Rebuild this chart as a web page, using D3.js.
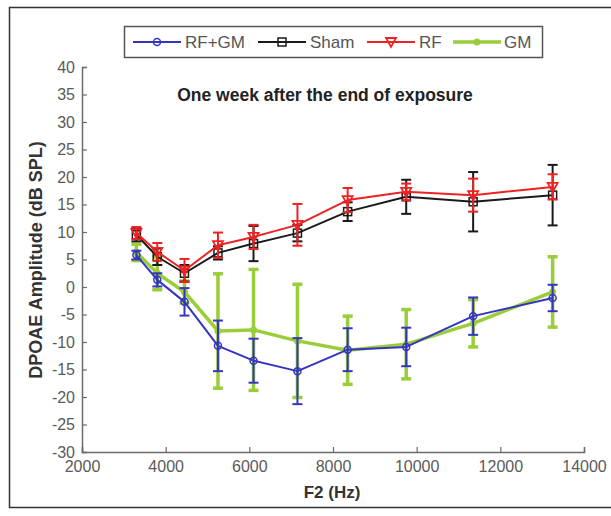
<!DOCTYPE html>
<html>
<head>
<meta charset="utf-8">
<script src="https://cdn.jsdelivr.net/npm/d3@7"></script>
<style>
  body { margin: 0; background: #fff; }
  svg { display: block; font-family: "Liberation Sans", Arial, sans-serif; }
</style>
</head>
<body>
<div id="chart"></div>
<script>
// frequencies (Hz) and mean DPOAE amplitude +- error
const freqs = [3300, 3800, 4450, 5250, 6100, 7150, 8350, 9750, 11350, 13250];
const rfgm = [5.8, 1.3, -2.7, -10.7, -13.4, -15.3, -11.4, -10.9, -5.3, -2.0];
const rfgmErr = [0.8, 1.2, 2.5, 4.6, 4.0, 6.0, 3.9, 3.5, 3.4, 2.4];
const sham = [9.5, 5.5, 2.5, 6.2, 7.9, 9.8, 13.7, 16.4, 15.5, 16.7];
const shamErr = [1.2, 1.5, 1.5, 1.2, 3.2, 1.5, 1.7, 3.1, 5.4, 5.5];
const rf = [9.8, 6.4, 3.0, 7.6, 9.1, 11.3, 15.8, 17.3, 16.7, 18.2];
const rfErr = [1.1, 1.6, 2.1, 2.3, 2.2, 3.8, 2.2, 1.5, 3.0, 2.3];
const gm = [6.3, 2.5, -0.9, -8.0, -7.8, -9.8, -11.5, -10.4, -6.6, -0.9];
const gmErr = [1.5, 3.0, 2.0, 10.4, 11.0, 10.3, 6.2, 6.3, 4.3, 6.4];

const xTicks = [2000, 4000, 6000, 8000, 10000, 12000, 14000];
const yTicks = d3.range(-30, 41, 5);

const width = 611, height = 516;
const svg = d3.select("#chart").append("svg")
    .attr("width", width)
    .attr("height", height);

// outer frame of the figure
svg.append("rect")
    .attr("x", 9.5).attr("y", 7.5)
    .attr("width", 620).attr("height", 500)
    .attr("fill", "none").attr("stroke", "#333").attr("stroke-width", 1.5);

const x = d3.scaleLinear().domain([2000, 14000]).range([82, 584]);
const y = d3.scaleLinear().domain([-30, 40]).range([452, 67]);

// axes, ticks inside like matlab
const axisColor = "#6b6b6b";
const gx = svg.append("g").attr("transform", `translate(0,${y(-30)})`)
    .call(d3.axisBottom(x).tickValues(xTicks).tickSize(-5).tickPadding(9).tickFormat(d => String(d)));
const gy = svg.append("g").attr("transform", `translate(${x(2000)},0)`)
    .call(d3.axisLeft(y).tickValues(yTicks).tickSize(-5).tickPadding(7).tickFormat(d => String(d)));
[gx, gy].forEach(g => {
    g.select(".domain").attr("stroke", axisColor).attr("stroke-width", 1.5);
    g.selectAll(".tick line").attr("stroke", axisColor).attr("stroke-width", 1.2);
    g.selectAll(".tick text").attr("fill", "#5a5a5a")
        .style("font-size", "16px").style("font-family", "'Liberation Sans', Arial, sans-serif");
});

svg.append("text")
    .attr("x", 332).attr("y", 498)
    .attr("text-anchor", "middle")
    .style("font-size", "17px").style("font-weight", "bold").attr("fill", "#333")
    .text("F2 (Hz)");

svg.append("text")
    .attr("transform", "translate(42,260) rotate(-90)")
    .attr("text-anchor", "middle")
    .style("font-size", "18px").style("font-weight", "bold").attr("fill", "#333")
    .text("DPOAE Amplitude (dB SPL)");

svg.append("text")
    .attr("x", 325).attr("y", 101)
    .attr("text-anchor", "middle")
    .style("font-size", "17.5px").style("font-weight", "bold").attr("fill", "#222")
    .text("One week after the end of exposure");

const series = [
    { name: "GM", values: gm, err: gmErr, color: "#9acd3a", lw: 3.5, marker: "dot" },
    { name: "RF+GM", values: rfgm, err: rfgmErr, color: "#3535c0", lw: 2, marker: "circle" },
    { name: "Sham", values: sham, err: shamErr, color: "#1a1a1a", lw: 2, marker: "square" },
    { name: "RF", values: rf, err: rfErr, color: "#ee2222", lw: 2, marker: "triangle" }
];

function drawMarker(g, kind, cx, cy, color) {
    if (kind === "circle") {
        g.append("circle").attr("cx", cx).attr("cy", cy).attr("r", 3.5)
            .attr("fill", "none").attr("stroke", color).attr("stroke-width", 1.5);
    } else if (kind === "square") {
        g.append("rect").attr("x", cx - 4).attr("y", cy - 4).attr("width", 8).attr("height", 8)
            .attr("fill", "none").attr("stroke", color).attr("stroke-width", 1.5);
    } else if (kind === "triangle") {
        g.append("path").attr("d", `M${cx - 5},${cy - 4}L${cx + 5},${cy - 4}L${cx},${cy + 5}Z`)
            .attr("fill", "none").attr("stroke", color).attr("stroke-width", 1.8);
    } else {
        g.append("circle").attr("cx", cx).attr("cy", cy).attr("r", 3.5).attr("fill", color);
    }
}

const line = d3.line().x(d => x(d[0])).y(d => y(d[1]));

series.forEach(s => {
    const g = svg.append("g");
    const pts = freqs.map((f, i) => [f, s.values[i], s.err[i]]);
    // error bars
    pts.forEach(p => {
        const cx = x(p[0]);
        g.append("line").attr("x1", cx).attr("x2", cx)
            .attr("y1", y(p[1] - p[2])).attr("y2", y(p[1] + p[2]))
            .attr("stroke", s.color).attr("stroke-width", s.lw);
        [p[1] - p[2], p[1] + p[2]].forEach(v => {
            g.append("line").attr("x1", cx - 5).attr("x2", cx + 5)
                .attr("y1", y(v)).attr("y2", y(v))
                .attr("stroke", s.color).attr("stroke-width", s.lw);
        });
    });
    g.append("path").datum(pts).attr("d", line)
        .attr("fill", "none").attr("stroke", s.color).attr("stroke-width", s.lw)
        .attr("stroke-linejoin", "round");
    pts.forEach(p => drawMarker(g, s.marker, x(p[0]), y(p[1]), s.color));
});

// legend
const legend = svg.append("g");
legend.append("rect")
    .attr("x", 124.5).attr("y", 26.5).attr("width", 418).attr("height", 31)
    .attr("fill", "#fff").attr("stroke", "#555").attr("stroke-width", 1.5);
const legendItems = [
    { s: series[1], x0: 133, tx: 185 },
    { s: series[2], x0: 258, tx: 310 },
    { s: series[3], x0: 367, tx: 419 },
    { s: series[0], x0: 453, tx: 504 }
];
legendItems.forEach(it => {
    const ly = 42;
    legend.append("line").attr("x1", it.x0).attr("x2", it.x0 + 48)
        .attr("y1", ly).attr("y2", ly)
        .attr("stroke", it.s.color).attr("stroke-width", it.s.lw);
    drawMarker(legend, it.s.marker, it.x0 + 24, ly, it.s.color);
    legend.append("text").attr("x", it.tx).attr("y", ly + 6)
        .style("font-size", "17px").attr("fill", "#555")
        .text(it.s.name);
});
</script>
</body>
</html>
